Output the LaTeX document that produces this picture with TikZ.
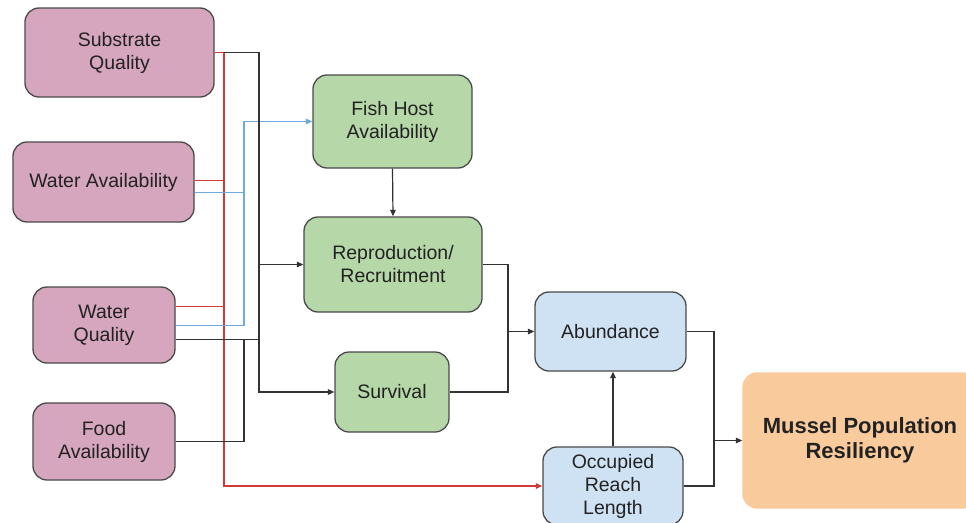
\documentclass[tikz,border=0pt]{standalone}
\usepackage{fontspec}
\setmainfont{Liberation Sans}
\usetikzlibrary{arrows.meta}
\definecolor{pinkf}{HTML}{D5A6BD}
\definecolor{greenf}{HTML}{B6D7A8}
\definecolor{bluef}{HTML}{CFE2F3}
\definecolor{orangef}{HTML}{F9CB9C}
\definecolor{bordc}{HTML}{4A4A4A}
\definecolor{txtc}{HTML}{222222}
\definecolor{redc}{HTML}{D23A3A}
\definecolor{bluec}{HTML}{6FA8DC}
\definecolor{blkc}{HTML}{333333}
\tikzset{
  box/.style={draw=bordc, line width=1.3pt, rounded corners=14pt, align=center,
    text=txtc, inner sep=2pt, font=\fontsize{19.5}{23}\selectfont},
  pinkbox/.style={box, fill=pinkf},
  greenbox/.style={box, fill=greenf},
  bluebox/.style={box, fill=bluef},
  orangebox/.style={box, fill=orangef, draw=orangef, font=\bfseries\fontsize{22}{25}\selectfont},
  tip/.style={-{Triangle[length=6.5pt,width=5.5pt]}},
  redl/.style={draw=redc, line width=1.2pt},
  bluel/.style={draw=bluec, line width=1.2pt},
  blkl/.style={draw=blkc, line width=1.2pt},
}
\begin{document}
\begin{tikzpicture}[x=1pt,y=-1pt]
\useasboundingbox (0,0) rectangle (966,522);
\clip (0,0) rectangle (966,522);
\fill[white] (0,0) rectangle (966,522);
% nodes
\node[pinkbox, minimum width=189pt, minimum height=89pt] (sq) at (119.5,52.5) {Substrate\\Quality};
\node[pinkbox, minimum width=181pt, minimum height=80pt] (wa) at (103.5,182) {Water Availability};
\node[pinkbox, minimum width=142pt, minimum height=76pt] (wq) at (104,325) {Water\\Quality};
\node[pinkbox, minimum width=142pt, minimum height=77pt] (fa) at (104,441.5) {Food\\Availability};
\node[greenbox, minimum width=159pt, minimum height=93pt] (fh) at (392.5,121.5) {Fish Host\\Availability};
\node[greenbox, minimum width=178pt, minimum height=95pt] (rr) at (393,264.5) {Reproduction/\\Recruitment};
\node[greenbox, minimum width=114pt, minimum height=80pt] (sv) at (392,392) {Survival};
\node[bluebox, minimum width=151pt, minimum height=79pt] (ab) at (610.5,331.5) {Abundance};
\node[bluebox, minimum width=140pt, minimum height=78pt] (or) at (613,486) {Occupied\\Reach\\Length};
\node[orangebox, minimum width=234pt, minimum height=135pt] (mp) at (860,440.5) {Mussel Population\\Resiliency};
% helper coordinates
\coordinate (rx) at (224,0);
\coordinate (cx) at (244,0);
\coordinate (bx) at (259,0);
\coordinate (mx) at (508,0);
\coordinate (nx) at (714,0);
\coordinate (war) at ([yshift=1.5pt]wa.east);
\coordinate (wab) at ([yshift=-10.5pt]wa.east);
\coordinate (wqr) at ([yshift=18.5pt]wq.east);
\coordinate (wqc) at ([yshift=-0.5pt]wq.east);
\coordinate (wqb) at ([yshift=-14.5pt]wq.east);
% red connectors
\draw[redl, tip] (sq.east) -| (rx |- or.west) -- (or.west);
\draw[redl] (war) -- (rx |- war);
\draw[redl] (wqr) -- (rx |- wqr);
% blue connectors
\draw[bluel, tip] (wab) -| (cx |- fh.west) -- (fh.west);
\draw[bluel] (wqc) -| (cx |- wab);
% black connectors
\draw[blkl, tip] (rx |- sq.east) -| (bx |- sv.west) -- (sv.west);
\draw[blkl, tip] (bx |- rr.west) -- (rr.west);
\draw[blkl] (wqb) -- (bx |- wqb);
\draw[blkl] (fa.east) -| (cx |- wqb);
\draw[blkl, tip] (fh.south) -- (rr.north);
\draw[blkl] (rr.east) -| (mx |- sv.east) -- (sv.east);
\draw[blkl, tip] (mx |- ab.west) -- (ab.west);
\draw[blkl] (ab.east) -| (nx |- or.east) -- (or.east);
\draw[blkl, tip] (nx |- mp.west) -- (mp.west);
\draw[blkl, tip] (or.north) -- (or.north |- ab.south);
\end{tikzpicture}
\end{document}
